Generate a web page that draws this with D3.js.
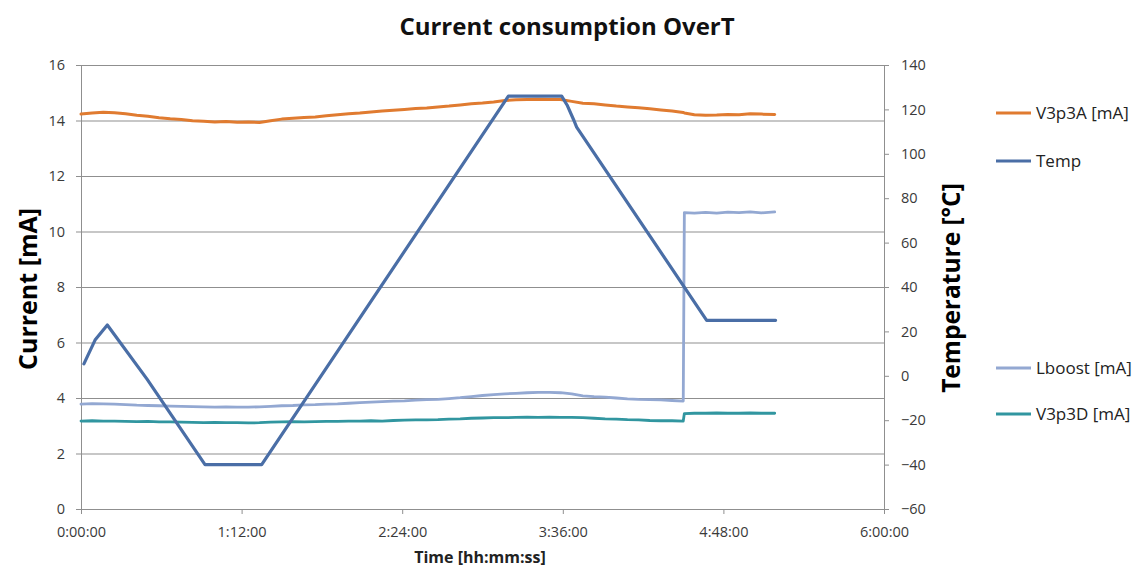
<!DOCTYPE html>
<html>
<head>
<meta charset="utf-8">
<script src="https://cdn.jsdelivr.net/npm/d3@7/dist/d3.min.js"></script>
<style>
  html, body { margin: 0; padding: 0; background: #ffffff; }
  svg { display: block; }
</style>
</head>
<body>
<svg id="chart" width="1136" height="567"></svg>
<script>
// ---------------- DATA (time in minutes) ----------------
const currentTime = [0,5,10,15,20,25,30,35,40,45,50,55,60,65,70,75,80,85,90,95,100,105,110,115,120,125,130,135,140,145,150,155,160,165,170,175,180,185,190,195,200,205,210,215,220,225,230,235,240,245,250,255,260,265,270,270.5,275,280,285,290,295,300,305,311];

const v3p3A = [14.23,14.27,14.30,14.28,14.24,14.19,14.15,14.10,14.06,14.04,13.99,13.97,13.95,13.96,13.94,13.95,13.93,13.99,14.05,14.08,14.11,14.13,14.17,14.21,14.24,14.27,14.31,14.34,14.37,14.40,14.43,14.45,14.49,14.52,14.56,14.60,14.63,14.67,14.72,14.75,14.76,14.77,14.76,14.76,14.69,14.62,14.60,14.56,14.52,14.49,14.46,14.42,14.38,14.34,14.29,14.27,14.21,14.19,14.20,14.22,14.21,14.24,14.23,14.22];

const lboost = [3.78,3.80,3.79,3.78,3.76,3.74,3.73,3.72,3.71,3.70,3.69,3.68,3.67,3.68,3.67,3.67,3.68,3.70,3.72,3.73,3.75,3.76,3.78,3.79,3.81,3.83,3.85,3.87,3.89,3.90,3.92,3.94,3.95,3.98,4.01,4.05,4.09,4.12,4.15,4.17,4.19,4.20,4.20,4.19,4.15,4.08,4.05,4.03,4.00,3.97,3.95,3.94,3.93,3.91,3.89,10.68,10.66,10.69,10.66,10.70,10.68,10.71,10.67,10.71];

const v3p3D = [3.17,3.18,3.17,3.17,3.16,3.15,3.16,3.14,3.14,3.13,3.12,3.11,3.12,3.11,3.11,3.10,3.11,3.13,3.14,3.15,3.14,3.15,3.16,3.16,3.17,3.17,3.18,3.17,3.19,3.20,3.21,3.21,3.22,3.24,3.25,3.27,3.28,3.29,3.29,3.30,3.31,3.30,3.31,3.30,3.30,3.29,3.27,3.25,3.24,3.22,3.21,3.19,3.18,3.18,3.17,3.44,3.45,3.45,3.46,3.45,3.45,3.46,3.45,3.45];

const tempTime = [1.3, 6.3, 11.8, 29.6, 55.6, 81.0, 191.6, 215.5, 217.9, 221.0, 222.2, 280.5, 311.4];
const tempVal  = [5.4, 16.1, 22.9, -1.5, -40, -40, 126, 126, 122, 115, 112, 25, 25];

const xTicks = [0, 72, 144, 216, 288, 360];
const yLeftTicks = [0, 2, 4, 6, 8, 10, 12, 14, 16];
const yRightTicks = [-60, -40, -20, 0, 20, 40, 60, 80, 100, 120, 140];

const legendNames = ["V3p3A [mA]", "Temp", "Lboost [mA]", "V3p3D [mA]"];
const colors = { v3p3A: "#E07B30", temp: "#4A6EA6", lboost: "#93A8D2", v3p3D: "#3196A0" };

// ---------------- LAYOUT ----------------
const svg = d3.select("#chart");
const L = 81, R = 884, T = 65, B = 509;
const font = "'Open Sans', Lato, sans-serif";
const gridCol = "#8f8f8f";

const x = d3.scaleLinear().domain([0, 360]).range([L, R]);
const yL = d3.scaleLinear().domain([0, 16]).range([B, T]);
const yR = d3.scaleLinear().domain([-60, 140]).range([B, T]);

function fmtTime(m) {
  const h = Math.floor(m / 60), mm = Math.round(m % 60);
  return h + ":" + String(mm).padStart(2, "0") + ":00";
}

// gridlines
svg.append("g").selectAll("line").data(yLeftTicks.filter(d => d > 0)).join("line")
  .attr("x1", L).attr("x2", R)
  .attr("y1", d => yL(d) + 0.5).attr("y2", d => yL(d) + 0.5)
  .attr("stroke", gridCol).attr("stroke-width", 1);

// axes
const gx = svg.append("g").attr("transform", `translate(0,${B})`)
  .call(d3.axisBottom(x).tickValues(xTicks).tickFormat(fmtTime).tickSize(5).tickPadding(13));
const gl = svg.append("g").attr("transform", `translate(${L},0)`)
  .call(d3.axisLeft(yL).tickValues(yLeftTicks).tickSize(5).tickPadding(11));
const gr = svg.append("g").attr("transform", `translate(${R},0)`)
  .call(d3.axisRight(yR).tickValues(yRightTicks).tickSize(5).tickPadding(12));

[gx, gl, gr].forEach(g => {
  g.selectAll(".domain").attr("stroke", gridCol);
  g.selectAll(".tick line").attr("stroke", gridCol);
  g.selectAll(".tick text").attr("fill", "#3a3a3a").style("font-family", font).style("font-size", "14.5px");
});

// series lines
const lineL = d3.line().x((d) => x(d[0])).y(d => yL(d[1])).curve(d3.curveLinear);
const lineR = d3.line().x((d) => x(d[0])).y(d => yR(d[1])).curve(d3.curveLinear);

function addLine(times, vals, gen, color, w) {
  svg.append("path")
    .datum(times.map((t, i) => [t, vals[i]]))
    .attr("d", gen).attr("fill", "none")
    .attr("stroke", color).attr("stroke-width", w)
    .attr("stroke-linejoin", "round").attr("stroke-linecap", "round");
}
addLine(currentTime, v3p3D, lineL, colors.v3p3D, 2.8);
addLine(currentTime, lboost, lineL, colors.lboost, 2.8);
addLine(currentTime, v3p3A, lineL, colors.v3p3A, 3);
addLine(tempTime, tempVal, lineR, colors.temp, 3.2);

// titles
svg.append("text").attr("x", 567).attr("y", 35).attr("text-anchor", "middle")
  .style("font-family", font).style("font-weight", "bold").style("font-size", "24px")
  .attr("fill", "#111").text("Current consumption OverT");

svg.append("text").attr("transform", "translate(37,289) rotate(-90)").attr("text-anchor", "middle")
  .style("font-family", font).style("font-weight", "bold").style("font-size", "25px")
  .attr("fill", "#000").text("Current [mA]");

svg.append("text").attr("transform", "translate(960,288) rotate(-90)").attr("text-anchor", "middle")
  .style("font-family", font).style("font-weight", "bold").style("font-size", "24.5px")
  .attr("fill", "#000").text("Temperature [°C]");

svg.append("text").attr("x", 480).attr("y", 563).attr("text-anchor", "middle")
  .style("font-family", font).style("font-weight", "bold").style("font-size", "16px")
  .attr("fill", "#222").text("Time [hh:mm:ss]");

// legend
const legendY = [113, 161, 368, 414];
const legendCols = [colors.v3p3A, colors.temp, colors.lboost, colors.v3p3D];
const lg = svg.append("g");
legendNames.forEach((n, i) => {
  lg.append("line").attr("x1", 996).attr("x2", 1031)
    .attr("y1", legendY[i]).attr("y2", legendY[i])
    .attr("stroke", legendCols[i]).attr("stroke-width", 3);
  lg.append("text").attr("x", 1036).attr("y", legendY[i]).attr("dy", "0.35em")
    .style("font-family", font).style("font-size", "17px")
    .attr("fill", "#222").text(n);
});
</script>
</body>
</html>
